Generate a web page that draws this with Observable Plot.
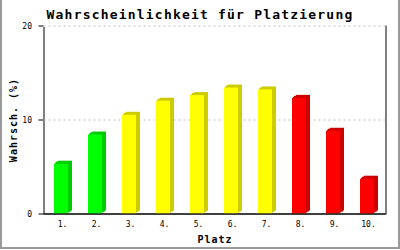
<!DOCTYPE html>
<html><head><meta charset="utf-8">
<script src="https://cdn.jsdelivr.net/npm/d3@7"></script>
<script src="https://cdn.jsdelivr.net/npm/@observablehq/plot@0.6"></script>
<style>
html,body{margin:0;padding:0;background:#fff;}
#wrap{position:relative;width:400px;height:250px;overflow:hidden;background:#fff;}
#border{position:absolute;left:0;top:0;width:400px;height:249px;box-sizing:border-box;border:2px solid #999;border-top:none;pointer-events:none;}
</style></head><body>
<div id="wrap"><div id="chart"></div><div id="border"></div></div>
<script>
const title = "Wahrscheinlichkeit für Platzierung";
const xLabel = "Platz";
const yLabel = "Wahrsch. (%)";
const places = ["1.", "2.", "3.", "4.", "5.", "6.", "7.", "8.", "9.", "10."];
const probs = [5.3, 8.4, 10.5, 12.0, 12.6, 13.4, 13.2, 12.3, 8.8, 3.7];
const tiers = ["top", "top", "mid", "mid", "mid", "mid", "mid", "low", "low", "low"];
const yTicks = [0, 10, 20];
const gridValues = [10, 20];

const frontColor = {top: "#00ff00", mid: "#ffff00", low: "#ff0000"};
const sideColor = {top: "#00cc00", mid: "#cccc00", low: "#cc0000"};
const data = places.map((p, i) => ({place: p, prob: probs[i], tier: tiers[i]}));
const depthSteps = [[4, -3], [3, -2], [2, -2], [1, -1]];

const sideMarks = depthSteps.map(([k, dy]) => Plot.barY(data, {
  x: "place", y: "prob", fill: d => sideColor[d.tier],
  insetLeft: 10, insetRight: 10, dx: -1 + k, dy
}));

const chart = Plot.plot({
  width: 400, height: 250,
  marginLeft: 43.5, marginRight: 14.5, marginTop: 25.5, marginBottom: 36.5,
  style: {fontFamily: "'DejaVu Sans Mono', monospace", fontSize: "8px", background: "transparent", color: "black"},
  x: {domain: places, padding: 0, tickSize: 0, tickPadding: 7, label: null},
  y: {domain: [0, 20], ticks: yTicks, tickSize: 5, tickPadding: 7, label: null},
  color: {type: "identity"},
  marks: [
    Plot.frame({stroke: "black"}),
    Plot.ruleY([20], {stroke: "white", strokeWidth: 2}),
    Plot.ruleY(gridValues, {stroke: "#bbb", strokeDasharray: "2,3"}),
    ...sideMarks,
    Plot.barY(data, {x: "place", y: "prob", fill: d => frontColor[d.tier], insetLeft: 10, insetRight: 10, dx: -1}),
    Plot.ruleY([0], {stroke: "black"}),
    Plot.text([title], {text: d => d, frameAnchor: "top", textAnchor: "middle", lineAnchor: "middle", dx: -15, dy: -11.5, fontSize: 13, fontWeight: "bold"}),
    Plot.text([xLabel], {text: d => d, frameAnchor: "bottom", textAnchor: "middle", lineAnchor: "middle", dy: 26, fontSize: 10, fontWeight: "bold"}),
    Plot.text([yLabel], {text: d => d, frameAnchor: "left", textAnchor: "middle", lineAnchor: "middle", dx: -30.5, rotate: -90, fontSize: 10, fontWeight: "bold"})
  ]
});
const groups = chart.querySelectorAll('g[aria-label="text"]');
if (groups[0]) groups[0].setAttribute("letter-spacing", "1.2");
if (groups[1]) groups[1].setAttribute("letter-spacing", "1");
if (groups[2]) groups[2].setAttribute("letter-spacing", "1");
document.getElementById("chart").appendChild(chart);
</script>
</body></html>
